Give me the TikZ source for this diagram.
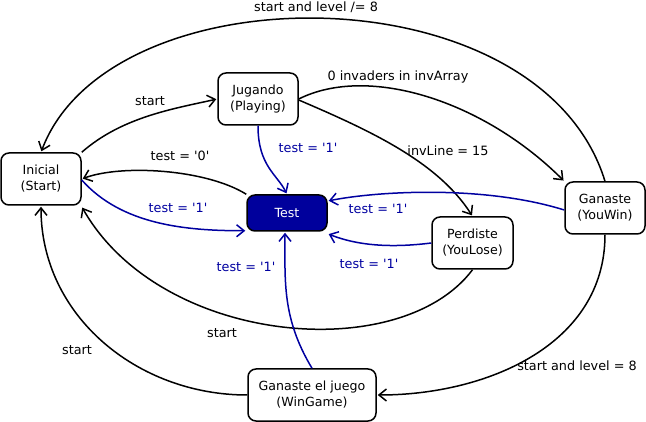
\documentclass[tikz,border=0pt]{standalone}
\usepackage{fontspec}
\setmainfont{DejaVu Sans}[Ligatures=TeXOff]
\usetikzlibrary{arrows.meta}
\definecolor{eblue}{HTML}{0000A0}
\definecolor{tfill}{HTML}{00009C}
\begin{document}
\begin{tikzpicture}[x=1pt,y=1pt,
  st/.style={draw=black, line width=1.5pt, rounded corners=8pt, fill=white,
    minimum width=80pt, minimum height=52pt, align=center, inner sep=0pt,
    font=\fontsize{12.6}{16}\selectfont},
  ar/.style={line width=1.5pt, shorten >=1pt, -{Straight Barb[length=7.5pt,width=12pt,line width=1.5pt]}},
  bar/.style={ar, draw=eblue},
  lbl/.style={font=\fontsize{12.8}{14}\selectfont, inner sep=0pt},
  blbl/.style={lbl, text=eblue}]
\useasboundingbox (0,0) rectangle (646,-422);
\node[st] (ini) at (41,-179) {Inicial\\(Start)};
\node[st] (jug) at (258,-99) {Jugando\\(Playing)};
\node[st, fill=tfill, text=white, minimum height=36pt] (tst) at (287,-213) {Test};
\node[st] (win) at (605,-208) {Ganaste\\(YouWin)};
\node[st, minimum width=81pt] (lose) at (472.5,-243) {Perdiste\\(YouLose)};
\node[st, minimum width=128pt] (wg) at (312,-395) {Ganaste el juego\\(WinGame)};
% black edges
\draw[ar] (ini.north east) .. controls +(40,35) and +(-45,-10) .. (jug.west);
\draw[ar] (jug.east) .. controls +(70,35) and +(-80,80) .. (win.north west);
\draw[ar] ([yshift=-1pt]jug.east) .. controls +(70,-30) and +(-35,55) .. (lose.north);
\draw[ar] (tst.north west) .. controls +(-40,25) and +(40,15) .. (ini.east);
\draw[ar] (lose.south) .. controls +(-72,-96) and +(79,-139) .. ([yshift=-1pt]ini.south east);
\draw[ar] (wg.west) .. controls +(-110,0) and +(0,-110) .. (ini.south);
\draw[ar] (win.south) .. controls +(0,-110) and +(110,0) .. (wg.east);
\draw[ar] (win.north) .. controls +(-65,212) and +(69,183) .. (ini.north);
% blue edges
\draw[bar] (jug.south) .. controls +(0,-40) and +(-10,20) .. (tst.north);
\draw[bar] ([yshift=-1pt]ini.east) .. controls +(40,-45) and +(-60,0) .. ([yshift=1pt]tst.south west);
\draw[bar] ([yshift=-2pt]win.west) .. controls +(-80,25) and +(50,10) .. ([yshift=12pt]tst.east);
\draw[bar] (lose.west) .. controls +(-40,-5) and +(30,-12) .. ([yshift=-2pt]tst.south east);
\draw[bar] (wg.north) .. controls +(-30,50) and +(0,-50) .. ([xshift=-2pt]tst.south);
% labels
\node[lbl] (l1) at (150,-101) {start};
\node[lbl] (l2) at (398,-77) {0 invaders in invArray};
\node[lbl] (l3) at (448,-151) {invLine = 15};
\node[lbl] (l4) at (180,-156) {test = '0'};
\node[lbl] (l5) at (222,-333) {start};
\node[lbl] (l6) at (77,-350) {start};
\node[lbl] (l7) at (577,-366) {start and level = 8};
\node[lbl] (l8) at (316,-7) {start and level /= 8};
\node[blbl] (b1) at (308,-148) {test = '1'};
\node[blbl] (b2) at (178,-208) {test = '1'};
\node[blbl] (b3) at (378,-209) {test = '1'};
\node[blbl] (b4) at (369,-264) {test = '1'};
\node[blbl] (b5) at (246,-267) {test = '1'};
\end{tikzpicture}
\end{document}
